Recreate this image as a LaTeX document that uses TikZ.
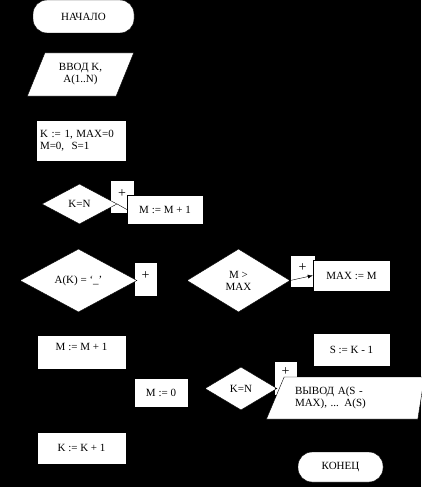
\documentclass[tikz,border=0pt]{standalone}
\usepackage{fontspec}
\setmainfont{Liberation Serif}
\usetikzlibrary{shapes.geometric,arrows.meta}

\begin{document}
\begin{tikzpicture}[x=1pt,y=-1pt,
    every node/.style={font=\fontsize{11}{12}\selectfont},
    box/.style={draw=black,fill=white,rectangle,inner sep=0pt},
    term/.style={box,rounded corners=14pt},
    cond/.style={draw=black,fill=white,diamond,inner sep=0pt,align=center},
    io/.style={draw=black,fill=white,trapezium,trapezium stretches=true,inner sep=0pt,align=left},
    plusbox/.style={box,minimum width=24pt,minimum height=33pt,text depth=6pt,font=\fontsize{14}{14}\selectfont}]
    \useasboundingbox (0,0) rectangle (421,487);
    \fill[black] (0,0) rectangle (421,487);
    % left column
    \node[term,minimum width=101pt,minimum height=33pt] (start) at (83.5,16.5) {НАЧАЛО};
    \node[io,trapezium left angle=64,trapezium right angle=116,
          minimum width=107pt,minimum height=43pt,align=center] (input) at (80.5,74.5) {ВВОД K,\\A(1..N)};
    \node[box,minimum width=90pt,minimum height=41pt,text width=82pt,align=left] (init) at (81,140.5)
        {K := 1, MAX=0\\M=0,\ \ S=1};
    \node[plusbox] (plusA) at (122,196.5) {+};
    \node[box,minimum width=76pt,minimum height=29pt] (incA) at (165,209.5) {M := M + 1};
    \node[cond,minimum width=75pt,minimum height=40pt] (endA) at (79.5,204) {K=N};
    \draw (endA.east) -- (incA.west);
    \node[plusbox,minimum width=23pt,minimum height=34pt] (plusB) at (145.5,279) {+};
    \node[cond,minimum width=117pt,minimum height=63pt] (space) at (78.5,280.5) {A(K) = `\_'};
    \node[box,minimum width=89pt,minimum height=34pt,text depth=10pt] (incB) at (81.5,352) {M := M + 1};
    \node[box,minimum width=89pt,minimum height=32pt] (incK) at (81.5,448) {K := K + 1};
    \node[box,minimum width=54pt,minimum height=29pt] (zero) at (161,392.5) {M := 0};
    % right column
    \node[plusbox,minimum width=25pt,minimum height=32pt] (plusC) at (302.5,271) {+};
    \node[box,minimum width=77pt,minimum height=31pt] (maxM) at (351.5,275.5) {MAX := M};
    \node[cond,minimum width=103pt,minimum height=63pt] (more) at (238.5,280.5) {M >\\MAX};
    \draw[-{Latex[length=5pt,width=4pt]}] (more.east) -- (maxM.west);
    \node[box,minimum width=77pt,minimum height=33pt] (setS) at (351.5,349.5) {S := K - 1};
    \node[plusbox,minimum width=23pt,minimum height=34pt,text depth=13pt] (plusD) at (285.5,378) {+};
    \node[io,trapezium left angle=56,trapezium right angle=104,text width=112pt,
          minimum width=158pt,minimum height=42pt] (output) at (351,398) {ВЫВОД A(S -\\MAX), ... A(S)};
    \node[cond,minimum width=72pt,minimum height=43pt] (endB) at (241,388.5) {K=N};
    \draw (endB.east) -- (endB.east -| output.west);
    \node[term,minimum width=85pt,minimum height=30pt] (stop) at (340.5,467) {КОНЕЦ};
\end{tikzpicture}
\end{document}
